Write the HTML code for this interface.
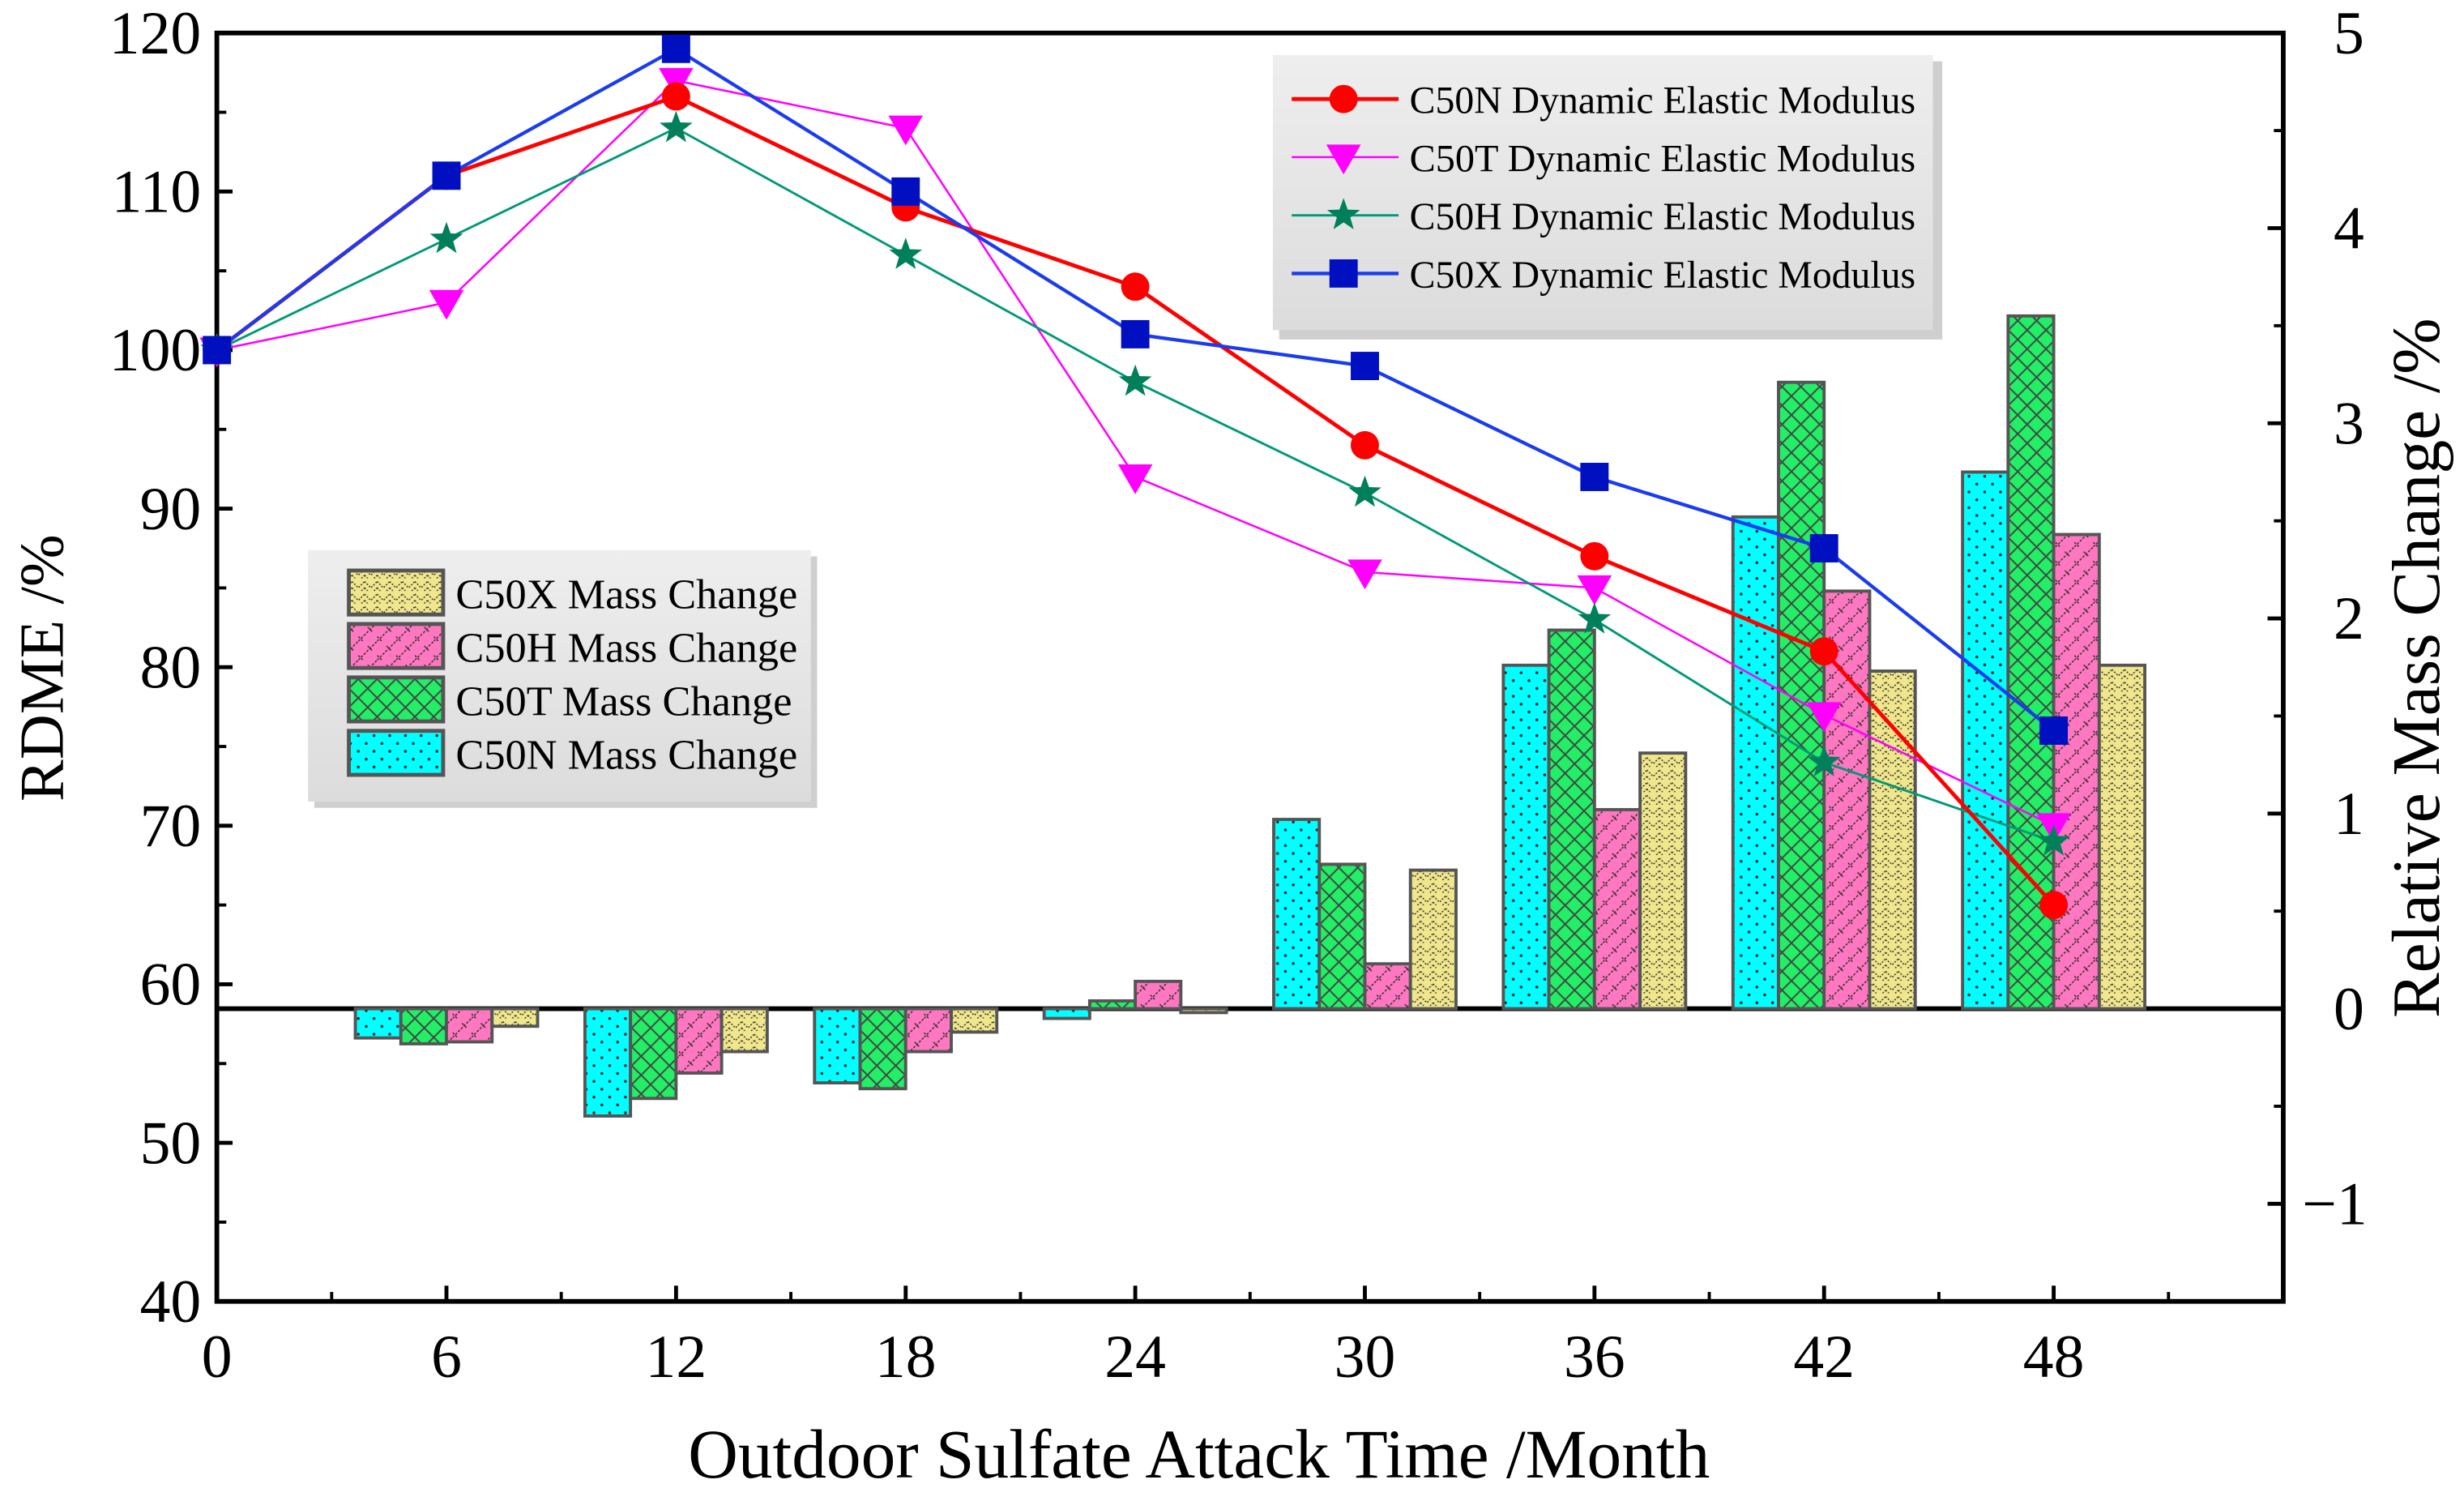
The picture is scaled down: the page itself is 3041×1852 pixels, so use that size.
<!DOCTYPE html>
<html><head><meta charset="utf-8"><style>
html,body{margin:0;padding:0;background:#fff;}
svg{display:block;font-family:"Liberation Serif",serif;}
</style></head><body>
<svg id="chart" width="3041" height="1852" viewBox="0 0 1568 955" preserveAspectRatio="none" xmlns="http://www.w3.org/2000/svg">
<defs>
<pattern id="pN" width="10" height="10" patternUnits="userSpaceOnUse"><rect width="10" height="10" fill="#00ffff"/><circle cx="3" cy="3" r="0.9" fill="#222"/><circle cx="8" cy="8" r="0.9" fill="#222"/></pattern>
<pattern id="pT" width="12" height="12" patternUnits="userSpaceOnUse"><rect width="12" height="12" fill="#22ee66"/><path d="M0 0L12 12M12 0L0 12" stroke="#444" stroke-width="1"/></pattern>
<pattern id="pH" width="12" height="12" patternUnits="userSpaceOnUse"><rect width="12" height="12" fill="#ff77c0"/><path d="M0 12L12 0M6 3L9 6M0 9L3 12" stroke="#333" stroke-width="0.8" stroke-dasharray="1.5 1"/></pattern>
<pattern id="pX" width="8" height="8" patternUnits="userSpaceOnUse"><rect width="8" height="8" fill="#f0e68c"/><path d="M0 2L4 6L8 2M0 6L2 8M6 8L8 6" stroke="#333" stroke-width="0.8" fill="none" stroke-dasharray="1 1"/></pattern>
<linearGradient id="lg" x1="0" y1="0" x2="0" y2="1"><stop offset="0" stop-color="#eeeeee"/><stop offset="1" stop-color="#dcdcdc"/></linearGradient>
</defs>
<g id="axes"></g>
<g id="bars"></g>
<g id="lines"></g>
<g id="legends"></g>
</svg>
<script>
const months=[0,6,12,18,24,30,36,42,48];
const barMonths=[6,12,18,24,30,36,42,48];
const massN=[-0.15,-0.55,-0.38,-0.05,0.97,1.76,2.52,2.75];
const massT=[-0.18,-0.46,-0.41,0.04,0.74,1.94,3.21,3.55];
const massH=[-0.17,-0.33,-0.22,0.14,0.23,1.02,2.14,2.43];
const massX=[-0.09,-0.22,-0.12,-0.02,0.71,1.31,1.73,1.76];
const rdmeN=[100,111,116,109,104,94,87,81,65];
const rdmeT=[100,103,117,114,92,86,85,77,70];
const rdmeH=[100,107,114,106,98,91,83,74,69];
const rdmeX=[100,111,119,110,101,99,92,87.5,76];
const leftTicks=[40,50,60,70,80,90,100,110,120];
const rightTicks=[-1,0,1,2,3,4,5];
const xTicks=[0,6,12,18,24,30,36,42,48];

const NS="http://www.w3.org/2000/svg";
const L=138,R=1453,T=21,B=828;
const xs=m=>L+(m-0)/54*(R-L);
const yl=v=>B-(v-40)/80*(B-T);
const yr=v=>B-(v+1.5)/6.5*(B-T);
function mk(tag,attrs,parent){const e=document.createElementNS(NS,tag);for(const k in attrs)e.setAttribute(k,attrs[k]);parent.appendChild(e);return e;}
const axes=document.getElementById('axes'),bars=document.getElementById('bars'),lines=document.getElementById('lines'),leg=document.getElementById('legends');

const series=[[massN,'pN','c50n'],[massT,'pT','c50t'],[massH,'pH','c50h'],[massX,'pX','c50x']];
const bw=29;
barMonths.forEach((m,i)=>{
  series.forEach((s,j)=>{
    const v=s[0][i];const x=xs(m)-2*bw+j*bw;const y0=yr(0),y1=yr(v);
    const r=mk('rect',{x:x,y:Math.min(y0,y1),width:bw,height:Math.abs(y1-y0),fill:'url(#'+s[1]+')',stroke:'#555','stroke-width':2},bars);
    
    
  });
});

const fr=mk('rect',{x:L,y:T,width:R-L,height:B-T,fill:'none',stroke:'#000','stroke-width':3},axes);

const zl=mk('line',{x1:L,x2:R,y1:yr(0),y2:yr(0),stroke:'#000','stroke-width':3},axes);

leftTicks.forEach(v=>{
  mk('line',{x1:L,x2:L+10,y1:yl(v),y2:yl(v),stroke:'#000','stroke-width':2.5},axes);
  if(v<120)mk('line',{x1:L,x2:L+6,y1:yl(v+5),y2:yl(v+5),stroke:'#000','stroke-width':2},axes);
  const t=mk('text',{x:L-10,y:yl(v)+13,'text-anchor':'end','font-size':39},axes);t.textContent=v;
  
});
rightTicks.forEach(v=>{
  mk('line',{x1:R-10,x2:R,y1:yr(v),y2:yr(v),stroke:'#000','stroke-width':2.5},axes);
  if(v<5)mk('line',{x1:R-6,x2:R,y1:yr(v+0.5),y2:yr(v+0.5),stroke:'#000','stroke-width':2},axes);
  const t=mk('text',{x:v<0?R+12:R+32,y:yr(v)+13,'font-size':39},axes);t.textContent=v<0?'\u2212'+(-v):v;
  
});
xTicks.forEach(m=>{
  mk('line',{x1:xs(m),x2:xs(m),y1:B-10,y2:B,stroke:'#000','stroke-width':2.5},axes);
  mk('line',{x1:xs(m+3),x2:xs(m+3),y1:B-6,y2:B,stroke:'#000','stroke-width':2},axes);
  const t=mk('text',{x:xs(m),y:B+48,'text-anchor':'middle','font-size':39},axes);t.textContent=m;
  
});
let t=mk('text',{x:763,y:940,'text-anchor':'middle','font-size':44},axes);t.textContent='Outdoor Sulfate Attack Time /Month';

t=mk('text',{x:0,y:0,'text-anchor':'middle','font-size':40,transform:'translate(40,425) rotate(-90)'},axes);t.textContent='RDME /%';

t=mk('text',{x:0,y:0,'text-anchor':'middle','font-size':43,transform:'translate(1552,425) rotate(-90)'},axes);t.textContent='Relative Mass Change /%';


function marker(type,x,y,col,g){
  if(type==='circle')return mk('circle',{cx:x,cy:y,r:9,fill:col},g);
  if(type==='square')return mk('rect',{x:x-9,y:y-9,width:18,height:18,fill:col},g);
  if(type==='tri')return mk('path',{d:`M${x-11} ${y-8}L${x+11} ${y-8}L${x} ${y+11}Z`,fill:col},g);
  let d='';for(let k=0;k<10;k++){const a=-Math.PI/2+k*Math.PI/5;const r=k%2?4.5:11;d+=(k?'L':'M')+(x+r*Math.cos(a))+' '+(y+r*Math.sin(a));}
  return mk('path',{d:d+'Z',fill:col},g);
}
const ls=[[rdmeT,'#ff00ff',1.3,'tri','#ff00ff','c50t'],[rdmeH,'#009977',1.5,'star','#00805a','c50h'],[rdmeN,'#ff0000',2.5,'circle','#ff0000','c50n'],[rdmeX,'#1a3cf0',2.2,'square','#0010c0','c50x']];
ls.forEach(s=>{
  const p=mk('polyline',{points:months.map((m,i)=>xs(m)+','+yl(s[0][i])).join(' '),fill:'none',stroke:s[1],'stroke-width':s[2]},lines);
  
  months.forEach((m,i)=>{const e=marker(s[3],xs(m),yl(s[0][i]),s[4],lines);
    });
});

let g=mk('g',{},leg);
mk('rect',{x:814,y:39,width:422,height:177,fill:'#cfcfcf'},g);
mk('rect',{x:810,y:35,width:420,height:175,fill:'url(#lg)'},g);
const l1=[['C50N Dynamic Elastic Modulus','#ff0000','circle','#ff0000',2.5],['C50T Dynamic Elastic Modulus','#ff00ff','tri','#ff00ff',1.3],['C50H Dynamic Elastic Modulus','#009977','star','#00805a',1.5],['C50X Dynamic Elastic Modulus','#1a3cf0','square','#0010c0',2.2]];
l1.forEach((e,i)=>{const y=63+i*37;
  mk('line',{x1:822,x2:890,y1:y,y2:y,stroke:e[1],'stroke-width':e[4]},g);marker(e[2],855,y,e[3],g);
  const tx=mk('text',{x:897,y:y+9,'font-size':24.5,textLength:322,lengthAdjust:'spacingAndGlyphs'},g);tx.textContent=e[0];
  });
g=mk('g',{},leg);
mk('rect',{x:200,y:354,width:320,height:160,fill:'#cfcfcf'},g);
mk('rect',{x:196,y:350,width:320,height:160,fill:'url(#lg)'},g);
const l2=[['C50X Mass Change','pX'],['C50H Mass Change','pH'],['C50T Mass Change','pT'],['C50N Mass Change','pN']];
l2.forEach((e,i)=>{const y=377+i*34;
  mk('rect',{x:222,y:y-14,width:60,height:28,fill:'url(#'+e[1]+')',stroke:'#555','stroke-width':2.5},g);
  const tx=mk('text',{x:290,y:y+10,'font-size':27},g);tx.textContent=e[0];
  });
</script>
</body></html>
